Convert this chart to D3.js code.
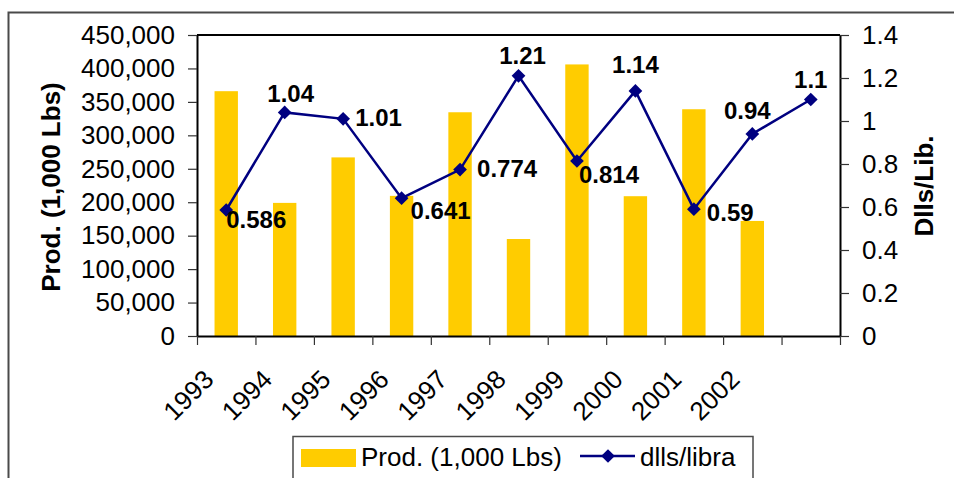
<!DOCTYPE html>
<html>
<head>
<meta charset="utf-8">
<script src="https://cdn.jsdelivr.net/npm/d3@7"></script>
<style>
  html, body { margin: 0; padding: 0; background: #fff; }
  svg { display: block; font-family: "Liberation Sans", Arial, sans-serif; }
</style>
</head>
<body>
<svg id="chart" width="954" height="478"></svg>
<script>
// Years on the category axis (the last slot carries only the price point)
const categories = ["1993", "1994", "1995", "1996", "1997", "1998", "1999", "2000", "2001", "2002", ""];
// Production, thousands of pounds
const production = [366000, 199000, 267000, 209500, 334500, 145000, 406000, 209000, 339000, 172000];
// Price, dollars per pound
const price = [0.586, 1.04, 1.01, 0.641, 0.774, 1.21, 0.814, 1.14, 0.59, 0.94, 1.1];
const priceLabels = ["0.586", "1.04", "1.01", "0.641", "0.774", "1.21", "0.814", "1.14", "0.59", "0.94", "1.1"];
const leftTicks = [0, 50000, 100000, 150000, 200000, 250000, 300000, 350000, 400000, 450000];
const rightTicks = [0, 0.2, 0.4, 0.6, 0.8, 1, 1.2, 1.4];

// Placement of each price label relative to its marker: [dx, dy, anchor]
const labelPlacement = [
  [0, 18, "start"], [6, -10, "middle"], [12, 7, "start"], [9, 21, "start"],
  [17, 7, "start"], [4, -12, "middle"], [2, 22, "start"], [0, -18, "middle"],
  [13, 12, "start"], [-5, -15, "middle"], [0, -12, "middle"]
];

const svg = d3.select("#chart");
const plot = { left: 197, right: 840, top: 35, bottom: 336 };

const x = d3.scaleBand().domain(categories).range([plot.left, plot.right]).padding(0);
const xEdge = d3.scaleLinear().domain([0, categories.length]).range([plot.left, plot.right]);
const yLeft = d3.scaleLinear().domain([0, 450000]).range([plot.bottom, plot.top]);
const yRight = d3.scaleLinear().domain([0, 1.4]).range([plot.bottom, plot.top]);

// Outer frame (top and left edges)
svg.append("path")
  .attr("d", `M8.5,478 V12.5 H954`)
  .attr("fill", "none").attr("stroke", "#4a4a4a").attr("stroke-width", 2);

// Bars
const barW = x.bandwidth() / 2.5;
svg.append("g").selectAll("rect")
  .data(production)
  .join("rect")
  .attr("x", (d, i) => x(categories[i]) + x.bandwidth() / 2 - barW / 2)
  .attr("y", d => yLeft(d))
  .attr("width", barW)
  .attr("height", d => yLeft(0) - yLeft(d))
  .attr("fill", "#FFCC00");

// Plot area top border
svg.append("line")
  .attr("x1", plot.left).attr("x2", plot.right)
  .attr("y1", plot.top).attr("y2", plot.top)
  .attr("stroke", "#000").attr("stroke-width", 2);

// Left axis
const gL = svg.append("g").attr("transform", `translate(${plot.left},0)`)
  .call(d3.axisLeft(yLeft).tickValues(leftTicks).tickFormat(d3.format(",")).tickSize(9).tickSizeOuter(0).tickPadding(13));
// Right axis
const gR = svg.append("g").attr("transform", `translate(${plot.right},0)`)
  .call(d3.axisRight(yRight).tickValues(rightTicks).tickFormat(d => String(d)).tickSize(9).tickSizeOuter(0).tickPadding(13));
// Bottom axis: ticks at category boundaries
const gB = svg.append("g").attr("transform", `translate(0,${plot.bottom})`)
  .call(d3.axisBottom(xEdge).tickValues(d3.range(0, categories.length + 1)).tickFormat("").tickSize(9).tickSizeOuter(0));

[gL, gR, gB].forEach(g => {
  g.select(".domain").attr("stroke", "#000").attr("stroke-width", 2);
  g.selectAll(".tick line").attr("stroke", "#333").attr("stroke-width", 1.2);
  g.selectAll("text").attr("font-size", 26).attr("fill", "#000")
    .attr("font-family", "'Liberation Sans', Arial, sans-serif");
});

// Year labels, rotated
svg.append("g").selectAll("text")
  .data(categories)
  .join("text")
  .attr("transform", d => `translate(${x(d) + x.bandwidth() / 2 - 11},381) rotate(-45)`)
  .attr("text-anchor", "end")
  .attr("font-size", 26)
  .text(d => d);

// Axis titles
svg.append("text")
  .attr("transform", `translate(60,187) rotate(-90)`)
  .attr("text-anchor", "middle")
  .attr("font-size", 26).attr("font-weight", "bold")
  .text("Prod. (1,000 Lbs)");
svg.append("text")
  .attr("transform", `translate(933,186) rotate(-90)`)
  .attr("text-anchor", "middle")
  .attr("font-size", 26).attr("font-weight", "bold")
  .text("Dlls/Lib.");

// Price line
const cx = i => x(categories[i]) + x.bandwidth() / 2;
svg.append("path")
  .datum(price)
  .attr("d", d3.line().x((d, i) => cx(i)).y(d => yRight(d)))
  .attr("fill", "none").attr("stroke", "#000080").attr("stroke-width", 2.5);

const diamond = d3.symbol().type(d3.symbolDiamond2).size(120);
svg.append("g").selectAll("path")
  .data(price)
  .join("path")
  .attr("transform", (d, i) => `translate(${cx(i)},${yRight(d)})`)
  .attr("d", diamond)
  .attr("fill", "#000080");

// Price labels
svg.append("g").selectAll("text")
  .data(price)
  .join("text")
  .attr("x", (d, i) => cx(i) + labelPlacement[i][0])
  .attr("y", (d, i) => yRight(d) + labelPlacement[i][1])
  .attr("text-anchor", (d, i) => labelPlacement[i][2])
  .attr("font-size", 24).attr("font-weight", "bold")
  .text((d, i) => priceLabels[i]);

// Legend
const lg = svg.append("g");
lg.append("rect")
  .attr("x", 293).attr("y", 436.5).attr("width", 460).attr("height", 50)
  .attr("fill", "#fff").attr("stroke", "#4a4a4a").attr("stroke-width", 1.5);
lg.append("rect")
  .attr("x", 301).attr("y", 449).attr("width", 55).attr("height", 18)
  .attr("fill", "#FFCC00");
lg.append("text")
  .attr("x", 361).attr("y", 466).attr("font-size", 26)
  .text("Prod. (1,000 Lbs)");
lg.append("line")
  .attr("x1", 580).attr("x2", 635).attr("y1", 456).attr("y2", 456)
  .attr("stroke", "#000080").attr("stroke-width", 2.5);
lg.append("path")
  .attr("transform", "translate(608,456)")
  .attr("d", diamond)
  .attr("fill", "#000080");
lg.append("text")
  .attr("x", 640).attr("y", 466).attr("font-size", 26)
  .text("dlls/libra");
</script>
</body>
</html>
